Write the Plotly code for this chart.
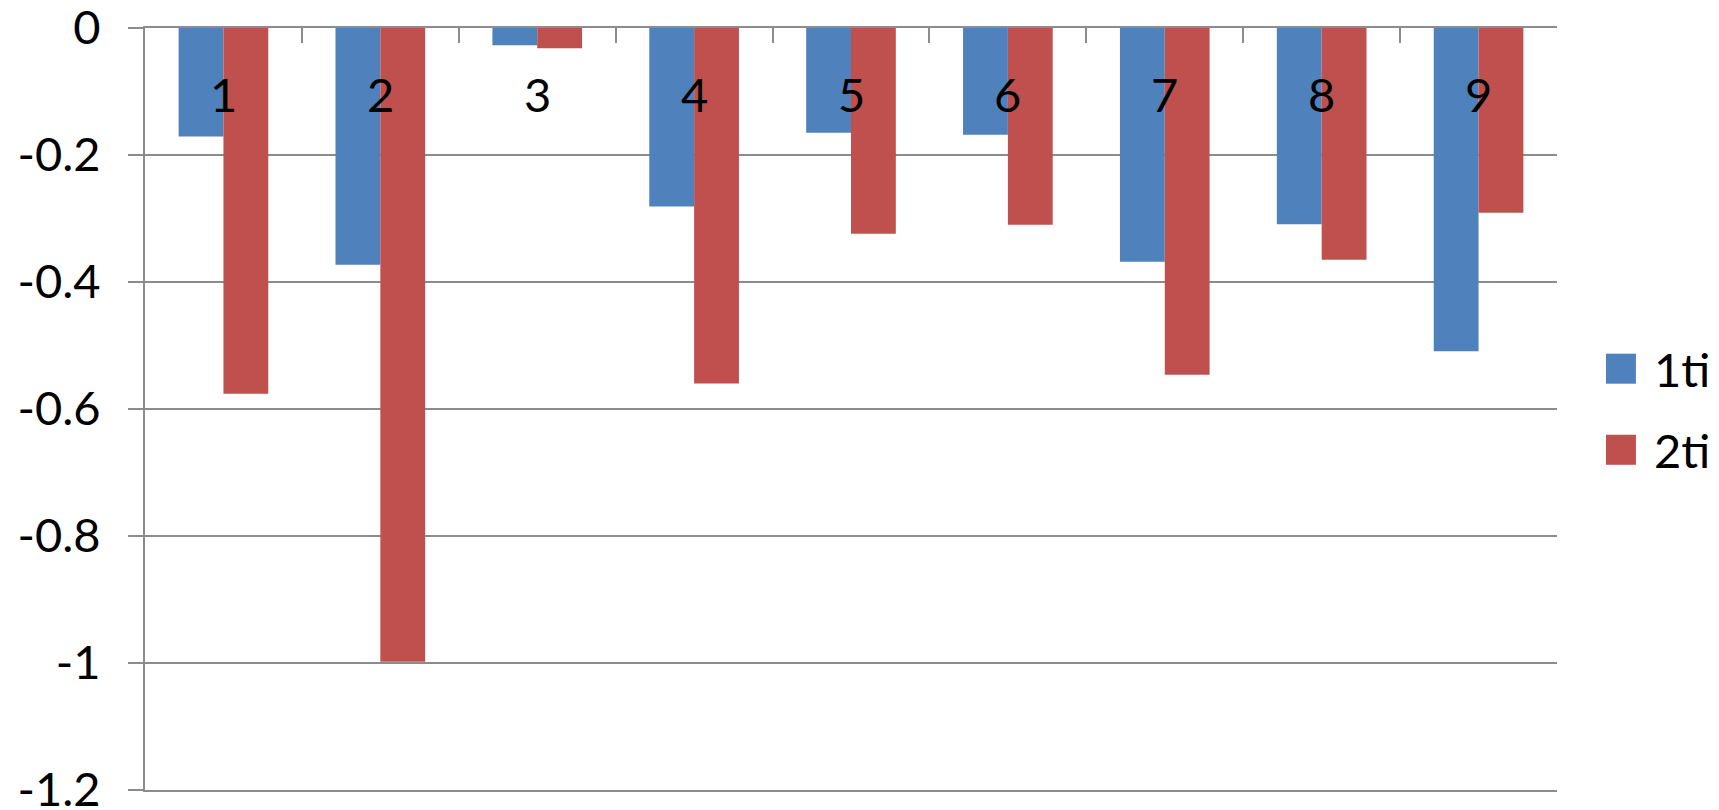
import plotly.graph_objects as go

# Categories and the two series
categories = ["1", "2", "3", "4", "5", "6", "7", "8", "9"]
series_1ti = [-0.171, -0.373, -0.027, -0.281, -0.165, -0.168, -0.368, -0.309, -0.509]
series_2ti = [-0.576, -0.998, -0.032, -0.560, -0.324, -0.310, -0.546, -0.365, -0.291]
series_names = ["1ti", "2ti"]
series_colors = ["#4F81BD", "#C0504D"]

y_tickvals = [0, -0.2, -0.4, -0.6, -0.8, -1, -1.2]
y_ticktext = ["0", "-0.2", "-0.4", "-0.6", "-0.8", "-1", "-1.2"]

FONT = "Lato, 'Open Sans', sans-serif"
GRID = "#8c8c8c"
FS = 47

fig = go.Figure()
for name, vals, col in zip(series_names, [series_1ti, series_2ti], series_colors):
    fig.add_trace(go.Bar(x=categories, y=vals, name=name, showlegend=False,
                         marker=dict(color=col, line=dict(width=0))))

# category labels sit just under the zero line, inside the plot
for i, cat in enumerate(categories):
    fig.add_annotation(x=i, y=0, xref="x", yref="y", text=cat,
                       showarrow=False, yanchor="middle", yshift=-66,
                       font=dict(size=FS, color="black", family=FONT))

# legend on the right: large colour swatch followed by the series name
legend_rows = [(0.5332, 0.5726), (0.4268, 0.4662)]
for name, col, (y0, y1) in zip(series_names, series_colors, legend_rows):
    fig.add_shape(type="rect", xref="paper", yref="paper",
                  x0=1.0347, x1=1.0559, y0=y0, y1=y1,
                  fillcolor=col, line=dict(width=0))
    fig.add_annotation(xref="paper", yref="paper", x=1.0673,
                       y=(y0 + y1) / 2, text=name, showarrow=False,
                       xanchor="left", yanchor="middle",
                       font=dict(size=FS, color="black", family=FONT))

fig.update_layout(
    width=1719, height=810,
    margin=dict(l=145, r=162, t=28, b=20),
    paper_bgcolor="white", plot_bgcolor="white",
    barmode="group", bargap=0.4286, bargroupgap=0,
    font=dict(family=FONT, size=FS, color="black"),
    showlegend=False,
    xaxis=dict(
        type="category", categoryorder="array", categoryarray=categories,
        range=[-0.5, len(categories) - 0.5],
        side="top", automargin=False,
        ticks="inside", tickson="boundaries", ticklen=15,
        tickcolor=GRID, tickwidth=2, showticklabels=False,
        showgrid=False, showline=True, linecolor=GRID, linewidth=2,
        mirror=True, zeroline=False,
    ),
    yaxis=dict(
        range=[-1.2, 0], tickvals=y_tickvals, ticktext=y_ticktext,
        automargin=False, ticklabeloverflow="allow",
        ticks="outside", ticklen=15, tickcolor=GRID, tickwidth=2,
        ticklabelstandoff=18,
        showgrid=True, gridcolor=GRID, gridwidth=2,
        showline=True, linecolor=GRID, linewidth=2,
        zeroline=False,
        tickfont=dict(size=FS),
    ),
)

fig.write_html("out.html")
